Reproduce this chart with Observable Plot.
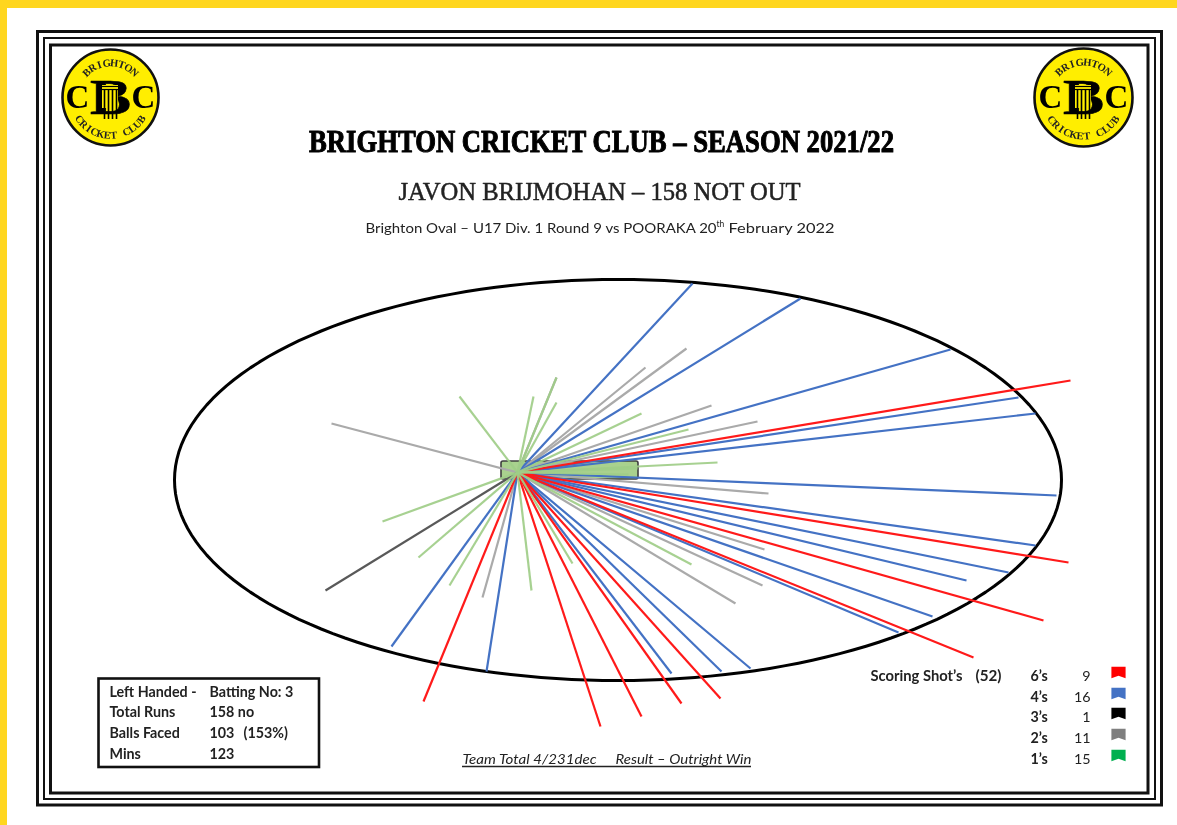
<!DOCTYPE html>
<html><head><meta charset="utf-8">
<script src="https://cdn.jsdelivr.net/npm/d3@7"></script>
<script src="https://cdn.jsdelivr.net/npm/@observablehq/plot@0.6"></script>
<style>html,body{margin:0;padding:0;background:#fff;overflow:hidden}svg{display:block;filter:blur(.5px)}</style>
</head><body><div id="chart"></div>
<script>
// Wagon wheel: where each scoring shot finished (page pixels)
const crease = [517, 472];
const sixes = [[1070,380],[1068,562],[1043,620],[973,657],[720,698],[681,703],[641,716],[600,726],[423,701]];
const fours = [[692,283],[800,298],[950,349],[1018,397],[1035,413],[1056,495],[1035,545],[1008,572],[966,580],[932,616],[898,632],[750,668],[721,671],[671,673],[486,671],[391,646]];
const threes = [[325,590]];
const twos = [[331,423],[482,597],[556,377],[645,367],[686,348],[711,405],[757,421],[768,493],[764,549],[762,585],[735,603]];
const ones = [[459,396],[533,396],[556,377],[556,402],[641,413],[688,429],[717,462],[637,468],[628,474],[382,521],[418,557],[449,585],[531,590],[572,563],[691,564]];

const runLabels = ["6\u2019s","4\u2019s","3\u2019s","2\u2019s","1\u2019s"];
const runCounts = [9,16,1,11,15];
const runColors = ["#FF0000","#4472C4","#000000","#7F7F7F","#00B050"];
const lineColors = {six:"#FF1A1A",four:"#4472C4",three:"#595959",two:"#AAAAAA",one:"#A0CD88"};
const legendY = [676,697,717,738,759];

const infoLabels = ["Left Handed -","Total Runs","Balls Faced","Mins"];
const infoValues = ["Batting No: 3","158 no","103","123"];
const infoY = [692,712,733,754];

const frames = [[37.5,31.5,1161.5,805,3],[44,38,1155,799,2],[50.5,45,1148,793,3]];
const oval = {cx:617.5,cy:479.5,rx:443.5,ry:200.5};
const logos = [[110,97,48],[1083,97,49]];
const topWord = "BRIGHTON", bottomWord = "CRICKET CLUB";

const ovalPts = d3.range(0,361,2).map(a=>[oval.cx+oval.rx*Math.cos(a*Math.PI/180),oval.cy+oval.ry*Math.sin(a*Math.PI/180)]);
const shotMark = (pts,color,w=2.2,op=1)=>Plot.link(pts,{x1:()=>crease[0],y1:()=>crease[1],x2:d=>d[0],y2:d=>d[1],stroke:color,strokeWidth:w,strokeOpacity:op});
const fit = (len)=>(index,scales,values,dims,ctx,next)=>{const g=next(index,scales,values,dims,ctx);d3.select(g).selectAll("text").attr("textLength",len).attr("lengthAdjust","spacingAndGlyphs");return g;};
const label = (s,x,y,o={})=>Plot.text([s],{x:()=>x,y:()=>y,text:d=>d,textAnchor:"start",fontFamily:"Lato",fontSize:14.3,fill:"#222",...o});

// curved logo lettering
const rad = Math.PI/180;
const logoChars = logos.flatMap(([cx,cy,r])=>{
  const out=[];
  const rt=r*0.72, rb=r*0.79;
  const tstep=12.5, bstep=10;
  [...topWord].forEach((c,i)=>{const a=(i-(topWord.length-1)/2)*tstep;out.push({c,x:cx+rt*Math.sin(a*rad),y:cy-rt*Math.cos(a*rad),rot:a});});
  [...bottomWord].forEach((c,i)=>{const a=(i-(bottomWord.length-1)/2)*bstep;out.push({c,x:cx+rb*Math.sin(a*rad),y:cy+rb*Math.cos(a*rad),rot:-a});});
  return out;
});
const logoMarks = logos.flatMap(([cx,cy,r])=>[
  Plot.text(["C"],{x:()=>cx-33,y:()=>cy,text:d=>d,fontFamily:"Liberation Serif",fontWeight:"bold",fontSize:33,fill:"#000"}),
  Plot.text(["C"],{x:()=>cx+33,y:()=>cy,text:d=>d,fontFamily:"Liberation Serif",fontWeight:"bold",fontSize:33,fill:"#000"}),
  Plot.text(["B"],{x:()=>cx,y:()=>cy,text:d=>d,fontFamily:"Liberation Serif",fontWeight:"bold",fontSize:50,fill:"#000",stroke:"#000",strokeWidth:.6,render:fit(41)}),
  Plot.rect([0],{x1:()=>cx-8,x2:()=>cx+8,y1:()=>cy-12,y2:()=>cy+11,fill:"#FFEE00"}),
  Plot.ruleX([-6,-2,2,6],{x:d=>cx+d,y1:()=>cy-7,y2:()=>cy+22,stroke:"#000",strokeWidth:1.6}),
  Plot.ruleY([0,1],{y:d=>cy-11+d*3,x1:()=>cx-8,x2:()=>cx+8,stroke:"#000",strokeWidth:1.2})
]);

const plot = Plot.plot({
  width:1177,height:825,margin:0,
  x:{domain:[0,1177],range:[0,1177],axis:null},
  y:{domain:[0,825],range:[0,825],axis:null},
  r:{type:"identity"},
  marks:[
    Plot.rect([[0,0,1177,8],[0,0,7,825]],{x1:d=>d[0],y1:d=>d[1],x2:d=>d[2],y2:d=>d[3],fill:"#FFD61F"}),
    ...frames.map(f=>Plot.rect([f],{x1:d=>d[0],y1:d=>d[1],x2:d=>d[2],y2:d=>d[3],stroke:"#111",strokeWidth:f[4],fill:"none"})),
    // logos
    Plot.dot(logos,{x:d=>d[0],y:d=>d[1],r:d=>d[2],fill:"#FFEE00",stroke:"#111",strokeWidth:2.6}),
    ...logoMarks,
    Plot.text(logoChars,{x:"x",y:"y",text:"c",rotate:"rot",fontFamily:"Liberation Serif",fontWeight:"bold",fontSize:10.5,fill:"#222"}),
    // titles
    Plot.text(["BRIGHTON CRICKET CLUB \u2013 SEASON 2021/22"],{x:()=>601,y:()=>142,text:d=>d,fontFamily:"Liberation Serif",fontWeight:"bold",fontSize:31,fill:"#000",stroke:"#000",strokeWidth:1,render:fit(585)}),
    Plot.text(["JAVON BRIJMOHAN \u2013 158 NOT OUT"],{x:()=>599,y:()=>191,text:d=>d,fontFamily:"Liberation Serif",fontSize:26,fill:"#222",stroke:"#222",strokeWidth:.5,render:fit(402)}),
    label("Brighton Oval \u2013 U17 Div. 1 Round 9 vs POORAKA 20",365,228,{render:fit(351)}),
    label("th",716,224,{fontSize:8.5}),
    label("February 2022",728,228,{render:fit(106)}),
    // ground and pitch
    Plot.line(ovalPts,{x:d=>d[0],y:d=>d[1],stroke:"#000",strokeWidth:3}),
    Plot.rect([[501,461,638,479]],{x1:d=>d[0],y1:d=>d[1],x2:d=>d[2],y2:d=>d[3],fill:"#A9D18E",stroke:"#404040",strokeWidth:1.6,rx:2}),
    // shots
    shotMark(twos,lineColors.two),
    shotMark(threes,lineColors.three),
    shotMark(fours,lineColors.four),
    shotMark(sixes,lineColors.six),
    shotMark(ones,lineColors.one,2.2,.92),
    // info box
    Plot.rect([[98.5,678.5,319,767]],{x1:d=>d[0],y1:d=>d[1],x2:d=>d[2],y2:d=>d[3],fill:"#fff",stroke:"#111",strokeWidth:2.6}),
    ...infoLabels.map((s,i)=>label(s,109,infoY[i],{fontWeight:"bold"})),
    ...infoValues.map((s,i)=>label(s,209,infoY[i],{fontWeight:"bold"})),
    label("(153%)",243,733,{fontWeight:"bold"}),
    // result line
    label("Team Total 4/231dec",462,759,{fontStyle:"italic",render:fit(134)}),
    label("Result \u2013 Outright Win",615,759,{fontStyle:"italic",render:fit(136)}),
    Plot.ruleY([766],{x1:()=>462,x2:()=>751,stroke:"#222",strokeWidth:1.5}),
    // legend
    label("Scoring Shot\u2019s",870,676,{fontWeight:"bold",render:fit(92)}),
    label("(52)",975,676,{fontWeight:"bold",render:fit(26)}),
    ...runLabels.map((s,i)=>label(s,1030,legendY[i],{fontWeight:"bold"})),
    ...runCounts.map((n,i)=>label(String(n),1090,legendY[i],{textAnchor:"end"})),
    Plot.dot(runColors,{x:()=>1118,y:(d,i)=>legendY[i]-4,fill:d=>d,symbol:{draw(ctx,size){const s=Math.sqrt(size)/2;ctx.moveTo(-s,-s*.8);ctx.lineTo(s,-s*.8);ctx.lineTo(s,s*.8);ctx.lineTo(0,s*.45);ctx.lineTo(-s,s*.8);ctx.closePath();}},r:8})
  ]
});
document.getElementById("chart").append(plot);
</script></body></html>
